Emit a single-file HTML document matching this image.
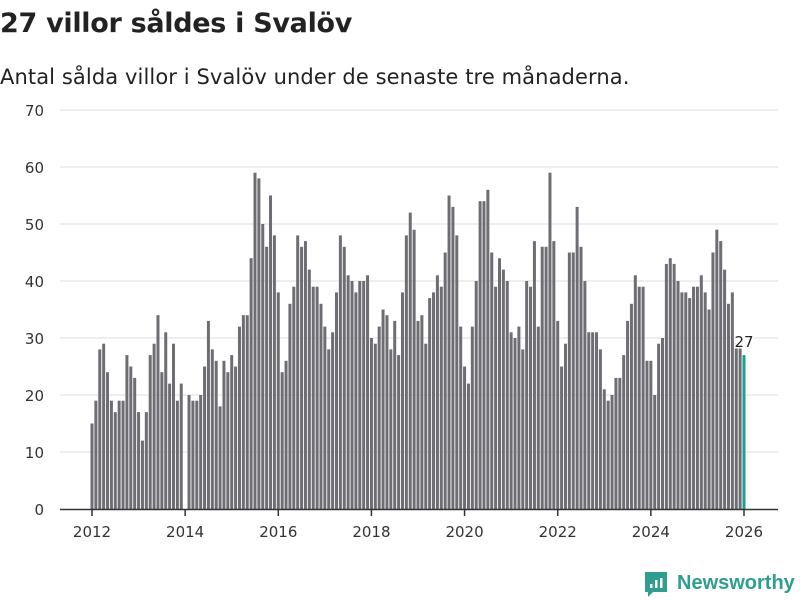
<!DOCTYPE html>
<html><head><meta charset="utf-8"><style>
body{margin:0;width:800px;height:600px;background:#fff;overflow:hidden;font-family:"DejaVu Sans","Liberation Sans",sans-serif;}
#title{position:absolute;left:0;top:8px;font-size:27px;font-weight:bold;color:#222;margin:0;letter-spacing:-0.3px;}
#sub{position:absolute;left:0;top:65px;font-size:21px;color:#222;letter-spacing:0.1px;}
svg{position:absolute;left:0;top:0;}
</style></head><body>
<h1 id="title">27 villor såldes i Svalöv</h1>
<div id="sub">Antal sålda villor i Svalöv under de senaste tre månaderna.</div>
<svg id="chart" width="800" height="600"></svg>
<script>
const values = [15,19,28,29,24,19,17,19,19,27,25,23,
17,12,17,27,29,34,24,31,22,29,19,22,
0,20,19,19,20,25,33,28,26,18,26,24,
27,25,32,34,34,44,59,58,50,46,55,48,
38,24,26,36,39,48,46,47,42,39,39,36,
32,28,31,38,48,46,41,40,38,40,40,41,
30,29,32,35,34,28,33,27,38,48,52,49,
33,34,29,37,38,41,39,45,55,53,48,32,
25,22,32,40,54,54,56,45,39,44,42,40,
31,30,32,28,40,39,47,32,46,46,59,47,
33,25,29,45,45,53,46,40,31,31,31,28,
21,19,20,23,23,27,33,36,41,39,39,26,
26,20,29,30,43,44,43,40,38,38,37,39,
39,41,38,35,45,49,47,42,36,38,29,29,
27];
const startYear = 2012;
const yTicks = [0,10,20,30,40,50,60,70];
const xTickYears = [2012,2014,2016,2018,2020,2022,2024,2026];

const svg = document.getElementById('chart');
const NS = 'http://www.w3.org/2000/svg';
const x0 = 92, mPx = (744-92)/168;
const xScale = m => x0 + m*mPx;
const yScale = v => 509 - v*(399/70);
function mk(tag, attrs){const e=document.createElementNS(NS,tag);for(const k in attrs)e.setAttribute(k,attrs[k]);svg.appendChild(e);return e;}

yTicks.forEach(t=>{
  if(t>0){const g=mk('line',{x1:60,x2:778,y1:yScale(t),y2:yScale(t),stroke:'#dddddd','stroke-width':1});
  
  }
  const l=mk('text',{x:44,y:yScale(t)+6,'text-anchor':'end','font-size':15,fill:'#333'});
  l.textContent=t;
  
  
});
values.forEach((v,i)=>{
  const last=i===values.length-1;
  const b=mk('rect',{x:xScale(i)-1.5,y:yScale(v),width:3,height:509-yScale(v),fill:last?'#1a9e96':'#6e6d73'});
  
  
});
const bl=mk('line',{x1:60,x2:778,y1:509.5,y2:509.5,stroke:'#333','stroke-width':1.5});


xTickYears.forEach(y=>{
  const x=xScale((y-startYear)*12);
  const t=mk('line',{x1:x,x2:x,y1:509,y2:516,stroke:'#333','stroke-width':1.5});
  
  
  const l=mk('text',{x:x,y:537,'text-anchor':'middle','font-size':15,fill:'#333'});
  l.textContent=y;
  
  
});
const li=values.length-1;
const lab=mk('text',{x:xScale(li),y:yScale(values[li])-8,'text-anchor':'middle','font-size':15,fill:'#222',stroke:'#fff','stroke-width':3,'paint-order':'stroke'});
lab.textContent=values[li];



const logo=mk('g',{});


const ic=document.createElementNS(NS,'path');
ic.setAttribute('d','M645 572 h22 v20 h-14 l-5 5 v-5 h-3 z');
ic.setAttribute('fill','#2f9e8f');
logo.appendChild(ic);
[[650,584,4],[655,580,8],[660,578,10]].forEach(([bx,by,bh])=>{
  const r=document.createElementNS(NS,'rect');
  r.setAttribute('x',bx);r.setAttribute('y',by);r.setAttribute('width',2.5);r.setAttribute('height',bh);r.setAttribute('fill','#fff');
  logo.appendChild(r);
});
const lt=document.createElementNS(NS,'text');
lt.setAttribute('x',677);lt.setAttribute('y',589);lt.setAttribute('font-size',20);
lt.setAttribute('font-family','"Liberation Sans",sans-serif');
lt.setAttribute('font-weight','bold');lt.setAttribute('fill','#2f9e8f');
lt.textContent='Newsworthy';
logo.appendChild(lt);
</script>
</body></html>
